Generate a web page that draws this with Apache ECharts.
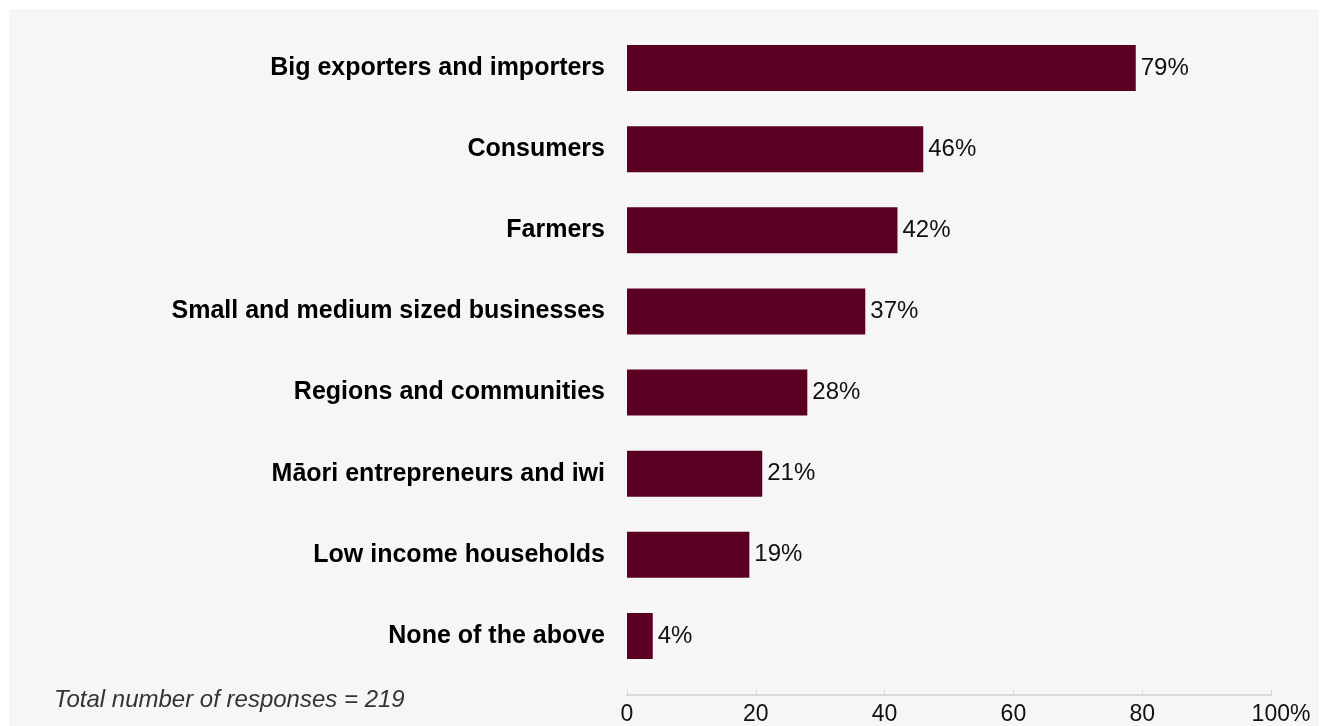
<!DOCTYPE html>
<html>
<head>
<meta charset="utf-8">
<script src="https://cdn.jsdelivr.net/npm/echarts@6/dist/echarts.min.js"></script>
<style>
  html, body { margin: 0; padding: 0; background: #ffffff; }
  #chart { width: 1328px; height: 726px; }
</style>
</head>
<body>
<div id="chart"></div>
<script>
// Groups seen as benefiting, share of respondents (%)
const categories = [
  'Big exporters and importers',
  'Consumers',
  'Farmers',
  'Small and medium sized businesses',
  'Regions and communities',
  'Māori entrepreneurs and iwi',
  'Low income households',
  'None of the above'
];
const shares = [79, 46, 42, 37, 28, 21, 19, 4];
const axisTicks = [0, 20, 40, 60, 80, 100];
const footnote = 'Total number of responses = 219';

const FONT = '"Liberation Sans", Arial, sans-serif';
const chart = echarts.init(document.getElementById('chart'), null, { renderer: 'canvas' });

chart.setOption({
  backgroundColor: '#ffffff',
  animation: false,
  graphic: [
    {
      type: 'rect',
      z: -10,
      shape: { x: 9, y: 9, width: 1310, height: 717 },
      style: { fill: '#f6f6f6' }
    },
    {
      type: 'text',
      left: 54,
      top: 688,
      style: {
        text: footnote,
        font: 'italic 24px "Liberation Sans", Arial, sans-serif',
        fill: '#333333'
      }
    }
  ],
  grid: {
    left: 627, right: 57, top: 27.5, height: 649,
    containLabel: false,
    outerBoundsMode: 'none'
  },
  xAxis: {
    type: 'value',
    min: axisTicks[0],
    max: axisTicks[axisTicks.length - 1],
    interval: 20,
    offset: 18,
    splitLine: { show: false },
    axisLine: { show: true, lineStyle: { color: '#d9d9d9', width: 2 } },
    axisTick: { show: true, inside: true, length: 5, lineStyle: { color: '#d9d9d9', width: 1 } },
    axisLabel: {
      color: '#111111',
      fontSize: 23,
      fontFamily: FONT,
      margin: 9,
      // the last tick keeps its number centred and lets the % sign trail after it
      formatter: v => (v === 100 ? '{lead|}{n|' + v + '}{n|%}' : String(v)),
      rich: {
        lead: { width: 20, fontSize: 23, fontFamily: FONT },
        n: { color: '#111111', fontSize: 23, fontFamily: FONT }
      }
    }
  },
  yAxis: {
    type: 'category',
    inverse: true,
    data: categories,
    axisLine: { show: false },
    axisTick: { show: false },
    axisLabel: {
      color: '#000000',
      fontSize: 25,
      fontWeight: 'bold',
      fontFamily: FONT,
      margin: 22
    }
  },
  series: [{
    type: 'bar',
    data: shares,
    barWidth: 46,
    itemStyle: { color: '#5c0023' },
    label: {
      show: true,
      position: 'right',
      distance: 5,
      color: '#111111',
      fontSize: 24,
      fontFamily: FONT,
      formatter: p => p.value + '%'
    }
  }]
});
</script>
</body>
</html>
